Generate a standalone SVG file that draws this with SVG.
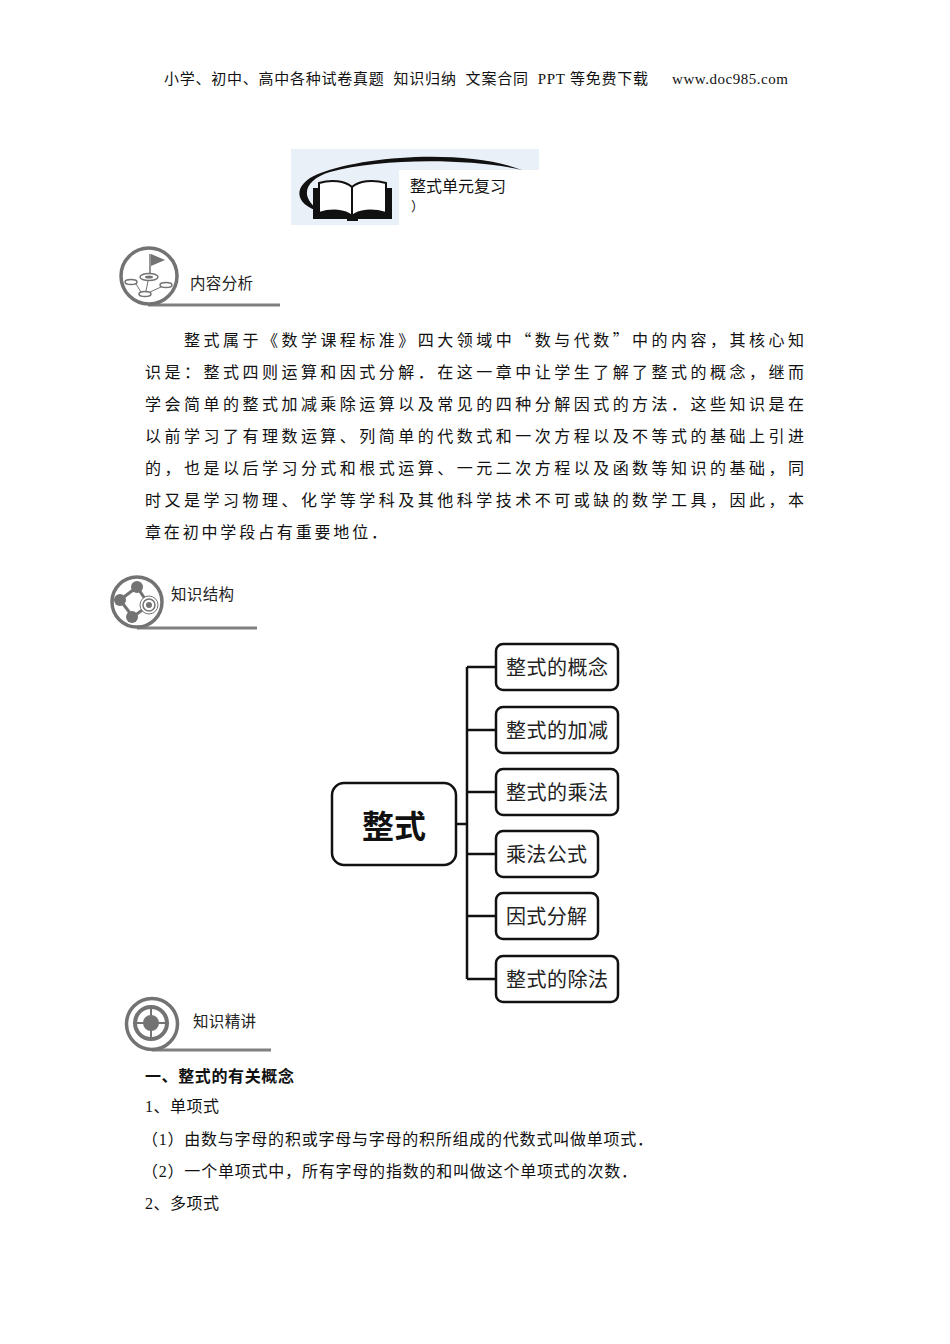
<svg xmlns="http://www.w3.org/2000/svg" width="950" height="1344" viewBox="0 0 950 1344">
<style>
text{font-family:"Liberation Serif","Noto Sans CJK SC",serif;fill:#111}
.b{font-size:15px;white-space:pre}
.s{font-size:16px}
.p{font-family:"Noto Sans CJK SC","Liberation Serif",sans-serif;font-size:16px}
.h{font-family:"Noto Sans CJK SC","Liberation Sans",sans-serif;font-size:15.5px;fill:#222}
.n{font-family:"Noto Sans CJK SC",sans-serif;font-size:20px;fill:#222}
.box{fill:#fff;stroke:#111;stroke-width:2.5}
.rule{fill:none;stroke:#808080;stroke-width:3}
.ring{fill:#fff;stroke:#737373;stroke-width:3.5}
.gr{fill:#737373}
.line{fill:none;stroke:#111;stroke-width:2.5}
</style>
<text x="164" y="84" class="b" textLength="484" lengthAdjust="spacing">小学、初中、高中各种试卷真题  知识归纳  文案合同  PPT 等免费下载</text>
<text x="672" y="84" class="b" textLength="116" lengthAdjust="spacing">www.doc985.com</text>

<g id="title-banner">
<rect x="291" y="149" width="248" height="76" fill="#eaf0f8"/>
<rect x="399" y="170" width="140" height="56" fill="#fff"/>
<path d="M322 212C292 205 293 184 318 174C370 154 470 150 522 170C470 158 380 158 330 172C304 180 298 198 322 212Z" fill="#111"/>
<path d="M313 188V219H392V188H387V213C370 208 358 210 352 216C346 210 330 208 319 213V188Z" fill="#111"/>
<path d="M319 183C332 179 345 181 352 187C359 181 372 179 386 183V213C372 209 359 210 352 216C345 210 332 209 319 213Z" fill="#fff" stroke="#111" stroke-width="2"/>
<path d="M352 187V216" stroke="#111" stroke-width="2"/>
<path d="M313 216H392V219H358V221H347V219H313Z" fill="#111"/>
<text x="410" y="192" style="font-family:'Noto Sans CJK SC',sans-serif;font-size:16px">整式单元复习</text>
<text x="411" y="211" style="font-family:'Noto Sans CJK SC',sans-serif;font-size:13px">）</text>
</g>

<g id="section-content">
<path class="rule" d="M148 305H280"/>
<circle class="ring" cx="149" cy="276" r="28"/>
<path d="M150 273V254" stroke="#737373" stroke-width="1.5"/>
<path d="M151 254L165 260L151 266Z" class="gr"/>
<ellipse cx="149" cy="277" rx="9" ry="3.5" fill="none" stroke="#737373" stroke-width="1.5"/>
<ellipse cx="149" cy="277" rx="4" ry="1.5" class="gr"/>
<ellipse cx="131" cy="282" rx="6" ry="2.5" fill="none" stroke="#737373" stroke-width="1.5"/>
<ellipse cx="166" cy="285" rx="6" ry="2.5" fill="none" stroke="#737373" stroke-width="1.5"/>
<ellipse cx="145" cy="294" rx="6" ry="2.5" fill="none" stroke="#737373" stroke-width="1.5"/>
<path d="M136 284L141 292M150 292L161 287M148 281L146 291" stroke="#737373" stroke-width="1"/>
<text x="190" y="289" class="h" textLength="63">内容分析</text>
</g>

<g id="paragraph">
<text x="184" y="346" class="p" textLength="620" lengthAdjust="spacing">整式属于《数学课程标准》四大领域中“数与代数”中的内容，其核心知</text>
<text x="145" y="378" class="p" textLength="659" lengthAdjust="spacing">识是：整式四则运算和因式分解．在这一章中让学生了解了整式的概念，继而</text>
<text x="145" y="410" class="p" textLength="659" lengthAdjust="spacing">学会简单的整式加减乘除运算以及常见的四种分解因式的方法．这些知识是在</text>
<text x="145" y="442" class="p" textLength="659" lengthAdjust="spacing">以前学习了有理数运算、列简单的代数式和一次方程以及不等式的基础上引进</text>
<text x="145" y="474" class="p" textLength="659" lengthAdjust="spacing">的，也是以后学习分式和根式运算、一元二次方程以及函数等知识的基础，同</text>
<text x="145" y="506" class="p" textLength="659" lengthAdjust="spacing">时又是学习物理、化学等学科及其他科学技术不可或缺的数学工具，因此，本</text>
<text x="145" y="538" class="p" textLength="242" lengthAdjust="spacing">章在初中学段占有重要地位．</text>
</g>

<g id="section-structure">
<path class="rule" d="M137 628H257"/>
<circle class="ring" cx="137" cy="602" r="25"/>
<path d="M120 600L137 587L149 605L133 617Z" fill="none" stroke="#737373" stroke-width="3"/>
<circle cx="120" cy="600" r="6" class="gr"/><circle cx="137" cy="587" r="6" class="gr"/><circle cx="132" cy="617" r="6" class="gr"/>
<circle cx="149" cy="605" r="9" fill="#fff" stroke="#737373" stroke-width="1"/>
<circle cx="149" cy="605" r="6" fill="#fff" stroke="#737373" stroke-width="1.5"/>
<circle cx="149" cy="605" r="3" class="gr"/>
<text x="171" y="600" class="h" textLength="63">知识结构</text>
</g>

<g id="connectors">
<path class="line" d="M456 824H467M467 667V979M467 667H496M467 730H496M467 792H496M467 854H496M467 916H496M467 979H496"/>
</g>

<g id="node-root"><rect class="box" x="332" y="783" width="124" height="82" rx="12"/>
<text x="394" y="838" text-anchor="middle" style="font-family:'Noto Sans CJK SC',sans-serif;font-size:32px;font-weight:700">整式</text></g>
<g id="node-1"><rect class="box" x="496" y="644" width="122" height="46" rx="7"/><text x="506" y="675" class="n" textLength="102">整式的概念</text></g>
<g id="node-2"><rect class="box" x="496" y="707" width="122" height="46" rx="7"/><text x="506" y="738" class="n" textLength="102">整式的加减</text></g>
<g id="node-3"><rect class="box" x="496" y="769" width="122" height="46" rx="7"/><text x="506" y="800" class="n" textLength="102">整式的乘法</text></g>
<g id="node-4"><rect class="box" x="496" y="831" width="102" height="46" rx="7"/><text x="506" y="862" class="n" textLength="81">乘法公式</text></g>
<g id="node-5"><rect class="box" x="496" y="893" width="102" height="46" rx="7"/><text x="506" y="924" class="n" textLength="81">因式分解</text></g>
<g id="node-6"><rect class="box" x="496" y="956" width="122" height="46" rx="7"/><text x="506" y="987" class="n" textLength="102">整式的除法</text></g>

<g id="section-knowledge">
<path class="rule" d="M152 1050H271"/>
<circle class="ring" cx="152" cy="1024" r="25.5"/>
<circle cx="151" cy="1023" r="16" fill="none" stroke="#737373" stroke-width="4"/>
<circle cx="151" cy="1023" r="8" class="gr"/>
<path d="M151 1005V1041M133 1023H169" stroke="#737373" stroke-width="2"/>
<text x="193" y="1027" class="h" textLength="63">知识精讲</text>
</g>

<text x="145" y="1082" class="s" textLength="149" style="font-weight:700">一、整式的有关概念</text>
<text x="145" y="1112" class="s" textLength="74">1、单项式</text>
<text x="142" y="1145" class="s" textLength="511">（1）由数与字母的积或字母与字母的积所组成的代数式叫做单项式．</text>
<text x="142" y="1177" class="s" textLength="495">（2）一个单项式中，所有字母的指数的和叫做这个单项式的次数．</text>
<text x="145" y="1209" class="s" textLength="74">2、多项式</text>
</svg>
